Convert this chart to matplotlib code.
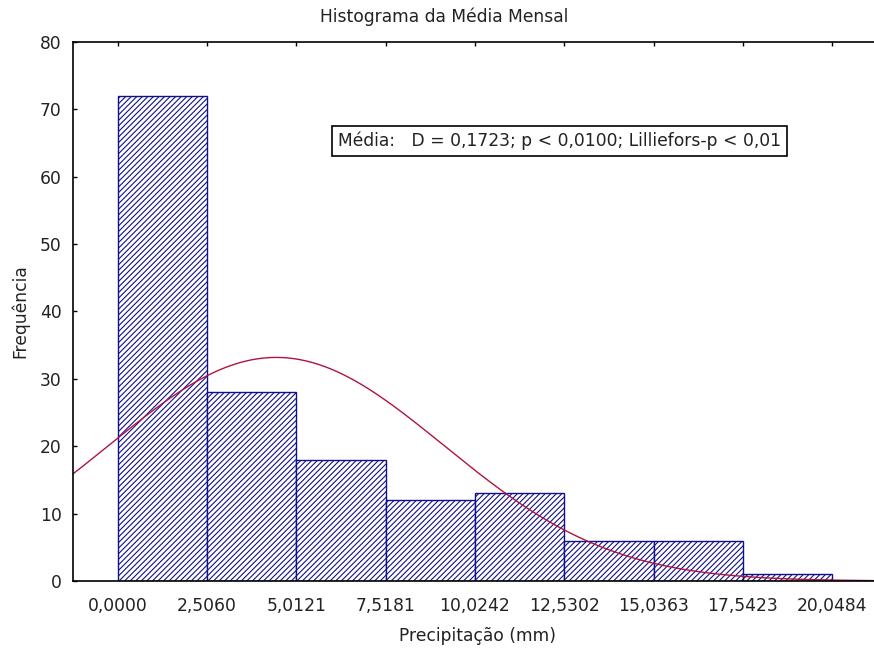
import numpy as np
import matplotlib
matplotlib.use('Agg')
import matplotlib.pyplot as plt

# %% data
bin_edges = [0.0, 2.5060, 5.0121, 7.5181, 10.0242, 12.5302, 15.0363, 17.5423, 20.0484]
counts = [72, 28, 18, 12, 13, 6, 6, 1]
tick_labels = ['0,0000', '2,5060', '5,0121', '7,5181', '10,0242',
               '12,5302', '15,0363', '17,5423', '20,0484']
fit_mean = 4.45   # fitted normal
fit_sd = 4.7

plt.rcParams['font.family'] = ['DejaVu Sans']
plt.rcParams['hatch.color'] = '#1a1a6e'
plt.rcParams['hatch.linewidth'] = 0.8
txt_col = '#222222'
fs = 12.3

fig = plt.figure(figsize=(8.74, 6.49), dpi=100)
ax = fig.add_axes([0.0835, 0.1048, 0.925, 0.8305])

width = bin_edges[1] - bin_edges[0]
ax.bar(bin_edges[:-1], counts, width=width, align='edge', color='white',
       edgecolor='#10108a', linewidth=1.0, hatch='//////')

# expected frequencies from the normal fit
n = sum(counts)
xs = np.linspace(-1.3, 21.4, 400)
ys = n * width / (fit_sd * np.sqrt(2 * np.pi)) * np.exp(-(xs - fit_mean) ** 2 / (2 * fit_sd ** 2))
ax.plot(xs, ys, color='#b0143c', linewidth=1.0)

ax.set_xlim(-0.5 * width, bin_edges[-1] + 0.55 * width)
ax.set_ylim(0, 80)
ax.set_yticks(range(0, 81, 10))
ax.set_xticks(bin_edges)
ax.set_xticklabels(tick_labels)
ax.tick_params(axis='both', direction='in', length=3, labelsize=fs, width=1,
               labelcolor=txt_col)
ax.tick_params(axis='x', top=True, bottom=False, pad=11.5)
ax.tick_params(axis='y', pad=8)
ax.spines['right'].set_visible(False)
for s in ['left', 'top', 'bottom']:
    ax.spines[s].set_linewidth(1.2)

fig.text(444 / 874, 1 - 17 / 649, 'Histograma da Média Mensal', fontsize=fs,
         ha='center', va='center', color=txt_col)
ax.set_xlabel('Precipitação (mm)', fontsize=fs, color=txt_col)
ax.xaxis.set_label_coords(0.5, -0.102)
ax.xaxis.label.set_va('center')
ax.set_ylabel('Frequência', fontsize=fs, color=txt_col)
ax.yaxis.set_label_coords(-0.0656, 0.5)
ax.yaxis.label.set_va('center')

ax.text(12.4, 65.3, 'Média:   D = 0,1723; p < 0,0100; Lilliefors-p < 0,01',
        fontsize=fs, ha='center', va='center', color=txt_col,
        bbox=dict(boxstyle='square,pad=0.35', facecolor='white', edgecolor='black', linewidth=1.2))

fig.savefig('out.png', dpi=100)
